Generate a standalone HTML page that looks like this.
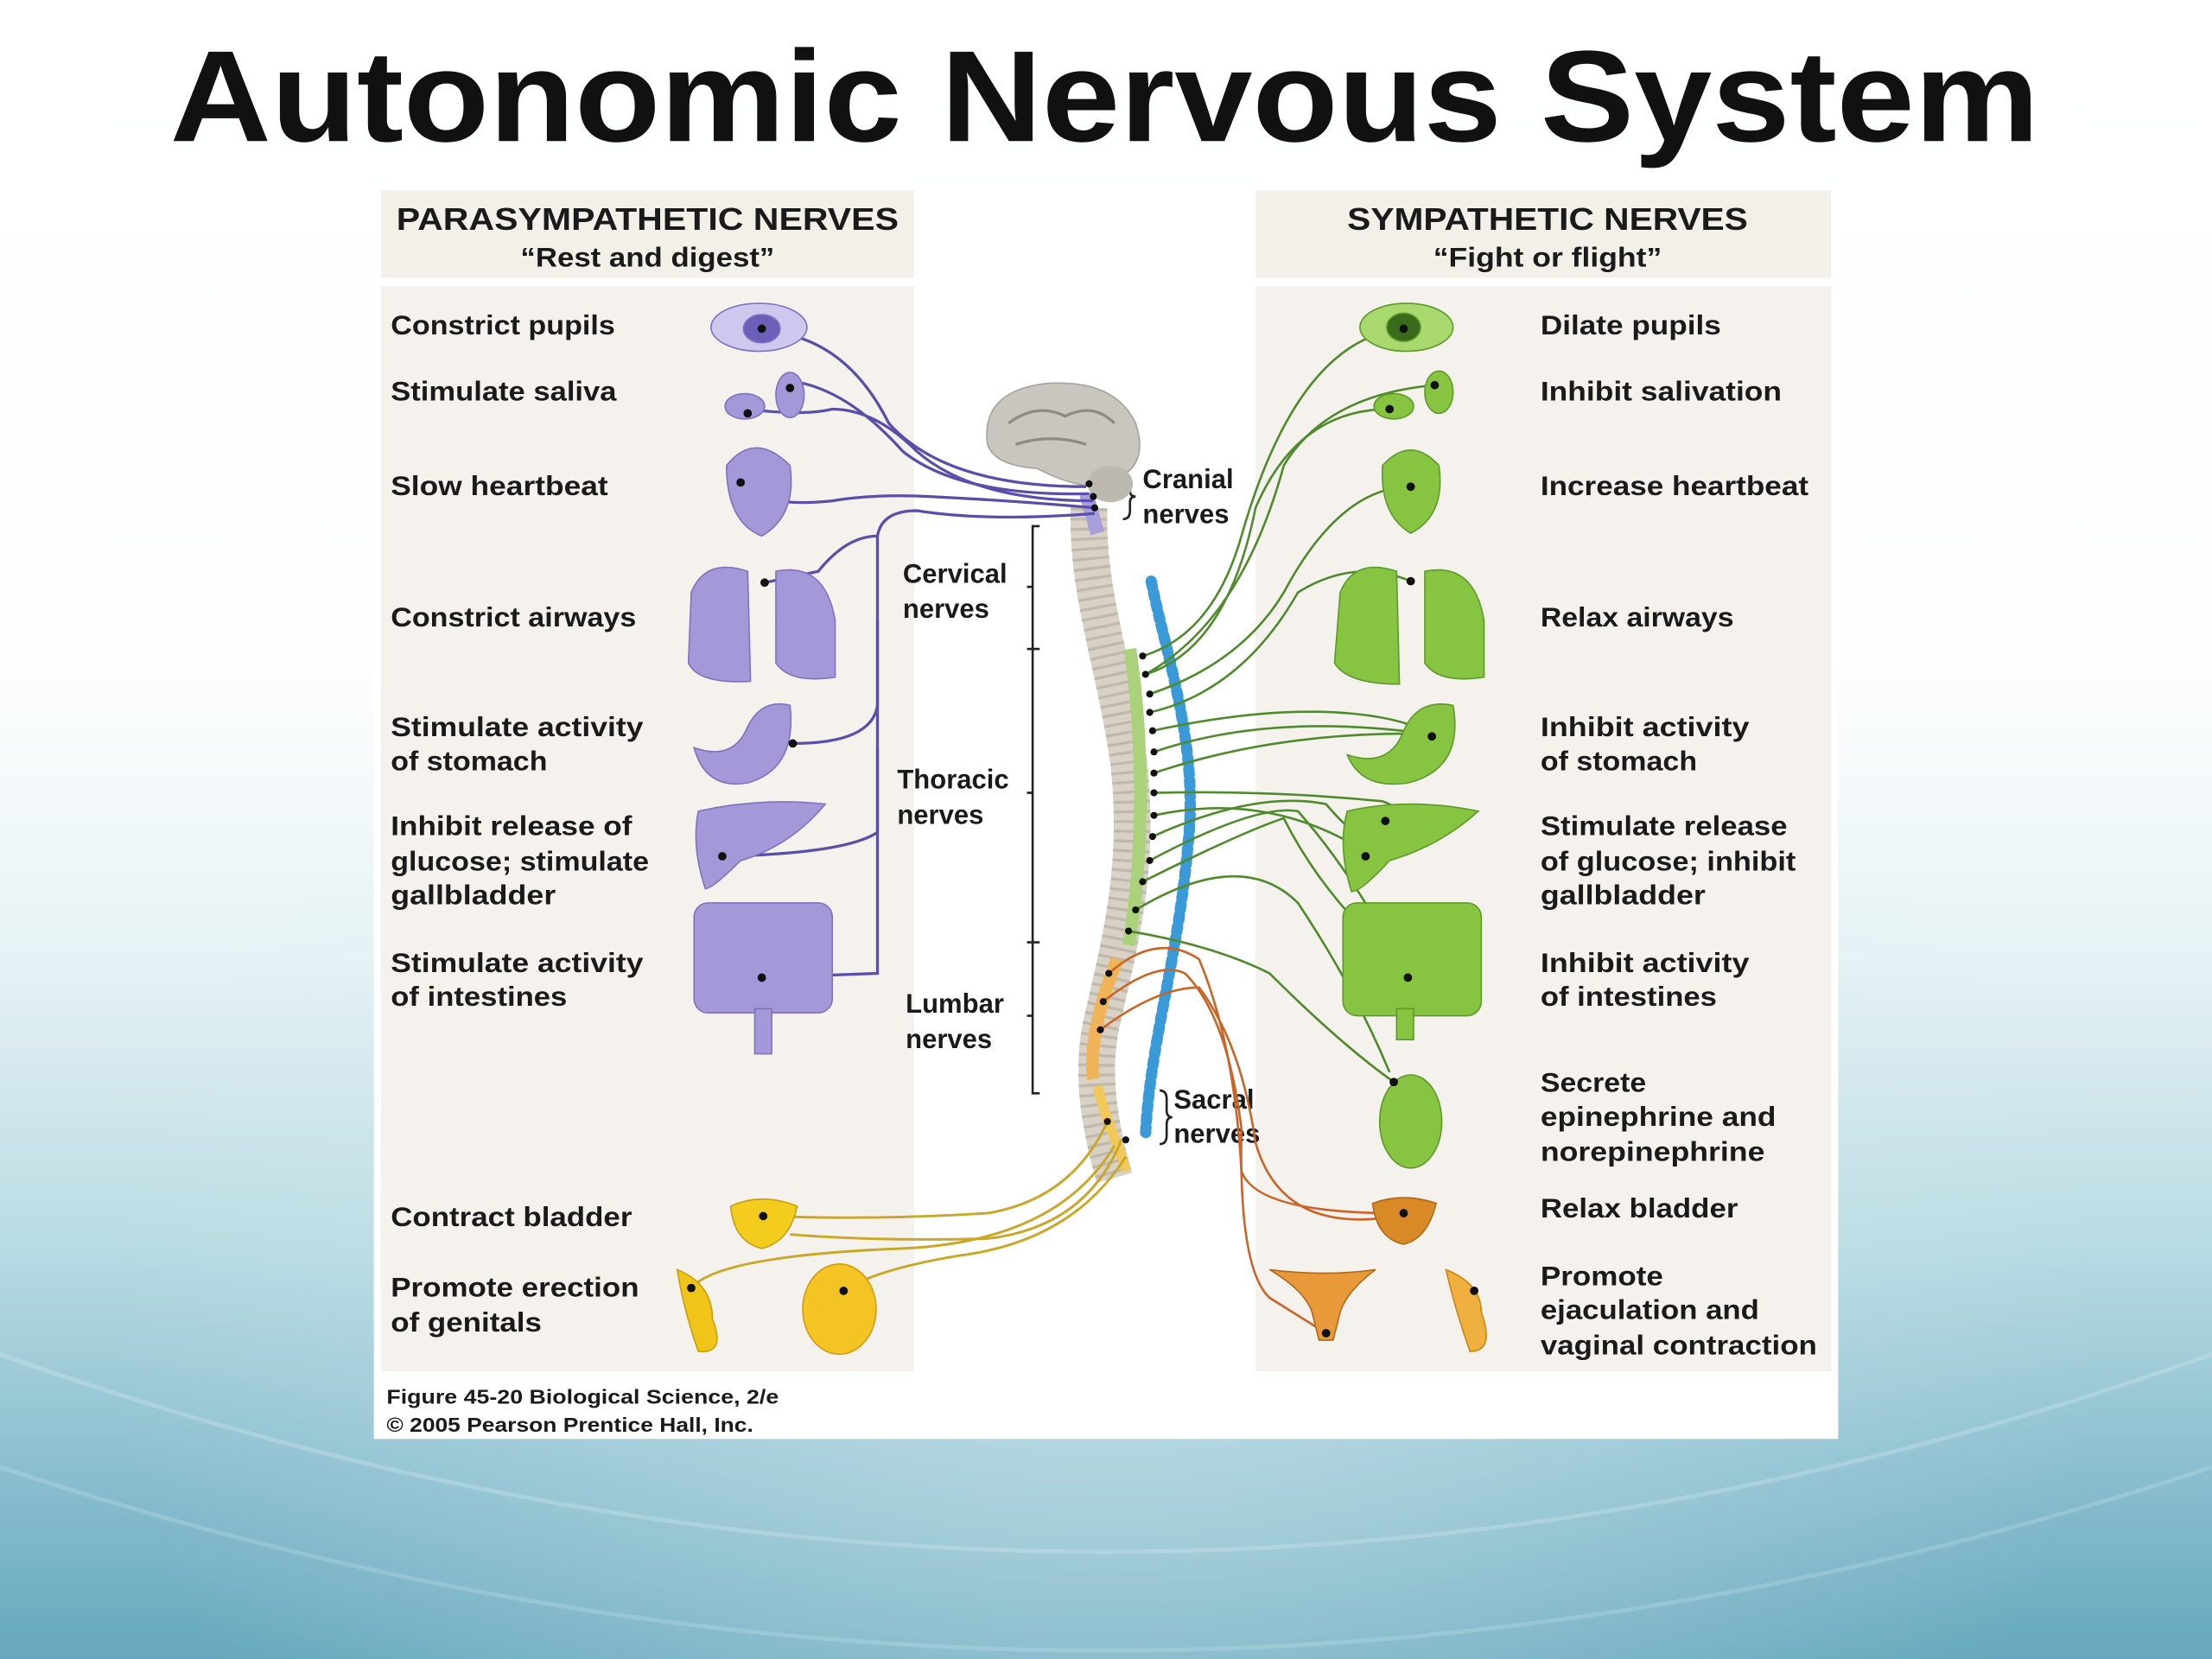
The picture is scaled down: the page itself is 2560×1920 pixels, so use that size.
<!DOCTYPE html>
<html><head><meta charset="utf-8"><style>
html,body{margin:0;padding:0;}
body{width:2560px;height:1920px;overflow:hidden;background:#fff;}
svg{display:block;}
text{font-family:"Liberation Sans",Arial,sans-serif;font-weight:bold;fill:#1a1a1a;}
</style></head><body>
<svg width="2560" height="1920" viewBox="0 0 1568 1176" preserveAspectRatio="none" xmlns="http://www.w3.org/2000/svg">
<defs>
<linearGradient id="bg" x1="0" y1="0" x2="0" y2="1">
<stop offset="0" stop-color="#ffffff"/>
<stop offset="0.4" stop-color="#fdfefe"/>
<stop offset="0.58" stop-color="#e6f2f5"/>
<stop offset="0.75" stop-color="#b9dbe3"/>
<stop offset="0.88" stop-color="#8cc0d0"/>
<stop offset="1" stop-color="#66a8bd"/>
</linearGradient>
<radialGradient id="glow" cx="0.5" cy="0.8" r="0.45">
<stop offset="0" stop-color="#d6eaef" stop-opacity="0.6"/>
<stop offset="1" stop-color="#d6eaef" stop-opacity="0"/>
</radialGradient>
</defs>
<rect width="1568" height="1176" fill="url(#bg)"/>
<rect width="1568" height="1176" fill="url(#glow)"/>
<path d="M0 960 Q784 1240 1568 960" fill="none" stroke="#e6f3f6" stroke-opacity="0.25" stroke-width="3"/>
<path d="M0 1040 Q784 1300 1568 1040" fill="none" stroke="#e6f3f6" stroke-opacity="0.2" stroke-width="3"/>

<text x="783" y="100" font-size="92" text-anchor="middle" textLength="1325" lengthAdjust="spacingAndGlyphs" style="fill:#111">Autonomic Nervous System</text>

<!-- figure box -->
<rect x="265" y="133" width="1038" height="887" fill="#fff"/>
<rect x="270" y="135" width="378" height="62" fill="#f3f0ea"/>
<rect x="270" y="203" width="378" height="769" fill="#f5f2ed"/>
<rect x="890" y="135" width="408" height="62" fill="#f3f0ea"/>
<rect x="890" y="203" width="408" height="769" fill="#f5f2ed"/>

<text x="459" y="163" font-size="22" text-anchor="middle" textLength="356" lengthAdjust="spacingAndGlyphs">PARASYMPATHETIC NERVES</text>
<text x="459" y="189" font-size="19" text-anchor="middle" textLength="180" lengthAdjust="spacingAndGlyphs">“Rest and digest”</text>
<text x="1097" y="163" font-size="22" text-anchor="middle" textLength="284" lengthAdjust="spacingAndGlyphs">SYMPATHETIC NERVES</text>
<text x="1097" y="189" font-size="19" text-anchor="middle" textLength="162" lengthAdjust="spacingAndGlyphs">“Fight or flight”</text>

<g font-size="19">
<text x="277" y="237" textLength="159" lengthAdjust="spacingAndGlyphs">Constrict pupils</text>
<text x="277" y="284" textLength="160" lengthAdjust="spacingAndGlyphs">Stimulate saliva</text>
<text x="277" y="351" textLength="154" lengthAdjust="spacingAndGlyphs">Slow heartbeat</text>
<text x="277" y="444" textLength="174" lengthAdjust="spacingAndGlyphs">Constrict airways</text>
<text x="277" y="522" textLength="179" lengthAdjust="spacingAndGlyphs">Stimulate activity</text>
<text x="277" y="546" textLength="111" lengthAdjust="spacingAndGlyphs">of stomach</text>
<text x="277" y="592" textLength="171" lengthAdjust="spacingAndGlyphs">Inhibit release of</text>
<text x="277" y="617" textLength="183" lengthAdjust="spacingAndGlyphs">glucose; stimulate</text>
<text x="277" y="641" textLength="117" lengthAdjust="spacingAndGlyphs">gallbladder</text>
<text x="277" y="689" textLength="179" lengthAdjust="spacingAndGlyphs">Stimulate activity</text>
<text x="277" y="713" textLength="125" lengthAdjust="spacingAndGlyphs">of intestines</text>
<text x="277" y="869" textLength="171" lengthAdjust="spacingAndGlyphs">Contract bladder</text>
<text x="277" y="919" textLength="176" lengthAdjust="spacingAndGlyphs">Promote erection</text>
<text x="277" y="944" textLength="107" lengthAdjust="spacingAndGlyphs">of genitals</text>

<text x="1092" y="237" textLength="128" lengthAdjust="spacingAndGlyphs">Dilate pupils</text>
<text x="1092" y="284" textLength="171" lengthAdjust="spacingAndGlyphs">Inhibit salivation</text>
<text x="1092" y="351" textLength="190" lengthAdjust="spacingAndGlyphs">Increase heartbeat</text>
<text x="1092" y="444" textLength="137" lengthAdjust="spacingAndGlyphs">Relax airways</text>
<text x="1092" y="522" textLength="148" lengthAdjust="spacingAndGlyphs">Inhibit activity</text>
<text x="1092" y="546" textLength="111" lengthAdjust="spacingAndGlyphs">of stomach</text>
<text x="1092" y="592" textLength="175" lengthAdjust="spacingAndGlyphs">Stimulate release</text>
<text x="1092" y="617" textLength="181" lengthAdjust="spacingAndGlyphs">of glucose; inhibit</text>
<text x="1092" y="641" textLength="117" lengthAdjust="spacingAndGlyphs">gallbladder</text>
<text x="1092" y="689" textLength="148" lengthAdjust="spacingAndGlyphs">Inhibit activity</text>
<text x="1092" y="713" textLength="125" lengthAdjust="spacingAndGlyphs">of intestines</text>
<text x="1092" y="774" textLength="75" lengthAdjust="spacingAndGlyphs">Secrete</text>
<text x="1092" y="798" textLength="167" lengthAdjust="spacingAndGlyphs">epinephrine and</text>
<text x="1092" y="823" textLength="159" lengthAdjust="spacingAndGlyphs">norepinephrine</text>
<text x="1092" y="863" textLength="140" lengthAdjust="spacingAndGlyphs">Relax bladder</text>
<text x="1092" y="911" textLength="87" lengthAdjust="spacingAndGlyphs">Promote</text>
<text x="1092" y="935" textLength="155" lengthAdjust="spacingAndGlyphs">ejaculation and</text>
<text x="1092" y="960" textLength="196" lengthAdjust="spacingAndGlyphs">vaginal contraction</text>

<text x="810" y="346">Cranial</text>
<text x="810" y="371">nerves</text>
<text x="640" y="413">Cervical</text>
<text x="640" y="438">nerves</text>
<text x="636" y="559">Thoracic</text>
<text x="636" y="584">nerves</text>
<text x="642" y="718">Lumbar</text>
<text x="642" y="743">nerves</text>
<text x="832" y="786">Sacral</text>
<text x="832" y="810">nerves</text>
</g>
<text x="274" y="995" font-size="14" textLength="278" lengthAdjust="spacingAndGlyphs">Figure 45-20  Biological Science, 2/e</text>
<text x="274" y="1015" font-size="14" textLength="260" lengthAdjust="spacingAndGlyphs">© 2005 Pearson Prentice Hall, Inc.</text>

<!-- brackets -->
<g stroke="#222" stroke-width="1.6" fill="none">
<path d="M737 373 H732 V775 H737 M728 416 H732 M728 460 H737 M728 562 H732 M728 668 H737 M728 720 H732"/>
<path d="M796 337 q5 0 5 6 v5 q0 4 4 4 q-4 0 -4 4 v6 q0 6 -5 6"/>
<path d="M822 773 q5 0 5 6 v8 q0 5 4 5 q-4 0 -4 5 v8 q0 6 -5 6"/>
</g>

<!-- brain -->
<path d="M700 315 Q695 278 740 272 Q790 268 805 300 Q815 330 790 340 L780 345 Q760 345 735 332 Q705 330 700 315Z" fill="#c9c5bf" stroke="#a7a39c"/>
<path d="M715 300 q20 -15 40 -5 q20 -10 35 5 M720 315 q25 -8 50 0" stroke="#8f8a83" fill="none" stroke-width="2"/>
<ellipse cx="787" cy="343" rx="16" ry="13" fill="#bdb8b0"/>
<!-- spine -->
<path d="M772 360 C770 420 790 470 800 540 C808 610 796 660 782 720 C772 760 780 800 790 835" stroke="#d8d2c6" stroke-width="26" fill="none"/>
<path d="M772 360 C770 420 790 470 800 540 C808 610 796 660 782 720 C772 760 780 800 790 835" stroke="#bfb8ab" stroke-width="26" stroke-dasharray="2 5" fill="none"/>
<path d="M801 460 C810 520 812 600 800 670" stroke="#a9d27a" stroke-width="9" fill="none"/>
<path d="M792 680 C780 710 772 740 775 765" stroke="#f0b458" stroke-width="9" fill="none"/>
<path d="M778 770 C785 800 795 815 798 830" stroke="#f3c85a" stroke-width="7" fill="none"/>
<path d="M770 350 L778 378" stroke="#a79fd9" stroke-width="10"/>
<!-- blue chain -->
<path d="M816 412 C828 470 850 530 842 600 C835 680 815 740 812 805" stroke="#3a9ad8" stroke-width="8" stroke-dasharray="4 4" stroke-linecap="round" fill="none"/>

<!-- purple nerves -->
<g stroke="#5a4ea8" stroke-width="2" fill="none">
<path d="M545 235 Q600 240 630 300 Q670 345 770 345"/>
<path d="M560 270 Q600 275 640 320 Q680 352 772 350"/>
<path d="M530 290 Q570 295 590 290 Q620 290 650 320 Q690 355 775 355"/>
<path d="M525 345 Q545 360 590 355 Q620 350 660 352 Q720 355 776 360"/>
<path d="M776 364 Q700 370 650 362 Q625 362 622 380 V690 Q620 690 540 693"/>
<path d="M622 380 Q600 380 580 405 L542 413"/>
<path d="M622 440 V500 Q618 527 562 527"/>
<path d="M622 530 V590 Q600 605 512 607"/>
</g>
<!-- green nerves -->
<g stroke="#4f8a2c" stroke-width="1.6" fill="none">
<path d="M810 465 Q860 450 880 380 Q920 240 995 233"/>
<path d="M812 478 Q870 460 890 360 Q920 290 985 290"/>
<path d="M812 478 Q880 440 910 330 Q940 280 1017 273"/>
<path d="M815 492 Q880 470 910 420 Q950 345 1000 345"/>
<path d="M815 505 Q880 490 920 420 Q960 395 1000 412"/>
<path d="M817 518 Q900 500 960 506 Q1000 510 1015 522"/>
<path d="M818 533 Q900 505 1010 520"/>
<path d="M818 548 Q900 520 1000 520"/>
<path d="M818 562 Q900 560 980 568 Q1000 575 982 582"/>
<path d="M818 578 Q900 560 970 605"/>
<path d="M817 593 Q890 560 940 570 Q965 600 990 605"/>
<path d="M815 610 Q890 570 920 575 Q960 620 998 693"/>
<path d="M810 625 Q880 590 910 580 Q940 640 1000 690"/>
<path d="M805 645 Q880 600 920 640 Q960 700 985 760"/>
<path d="M800 660 Q860 670 900 690 Q950 740 988 767"/>
</g>
<!-- orange nerves -->
<g stroke="#c8662a" stroke-width="1.6" fill="none">
<path d="M786 690 Q820 660 850 680 Q875 740 880 830 Q890 860 990 860"/>
<path d="M782 710 Q820 680 840 690 Q870 720 880 800 Q878 900 900 920 L940 945"/>
<path d="M780 730 Q820 700 850 700 Q880 740 890 810 Q910 880 1000 860"/>
</g>
<!-- yellow nerves -->
<g stroke="#c9a72a" stroke-width="1.8" fill="none">
<path d="M785 795 Q760 850 700 860 Q620 865 545 862"/>
<path d="M795 808 Q770 870 700 878 Q620 880 560 875"/>
<path d="M790 812 Q750 880 640 885 Q510 890 490 913"/>
<path d="M798 820 Q760 880 680 890 Q620 900 598 915"/>
</g>

<!-- left purple organs -->
<g fill="#a498d8" stroke="#7f72c0" stroke-width="1">
<ellipse cx="538" cy="232" rx="34" ry="17" fill="#cfc8ee"/>
<ellipse cx="540" cy="233" rx="13" ry="10" fill="#6c5fb8"/>
<ellipse cx="560" cy="280" rx="10" ry="16"/>
<ellipse cx="528" cy="288" rx="14" ry="9"/>
<path d="M515 330 Q535 305 560 330 Q565 365 540 380 Q515 370 515 330Z"/>
<path d="M490 420 Q500 395 530 405 L532 483 Q495 485 488 470Z"/>
<path d="M550 405 Q585 398 592 440 L592 480 Q560 485 550 470Z"/>
<path d="M492 530 Q520 540 530 515 Q540 495 560 500 Q565 545 530 555 Q500 560 492 530Z"/>
<path d="M495 575 Q540 565 585 570 Q560 600 525 610 Q505 630 500 630 Q490 600 495 575Z"/>
<rect x="492" y="640" width="98" height="78" rx="10"/>
<rect x="535" y="715" width="12" height="32"/>
</g>
<!-- right green organs -->
<g fill="#86c441" stroke="#5f9a2c" stroke-width="1">
<ellipse cx="997" cy="232" rx="33" ry="17" fill="#a8d86e"/>
<ellipse cx="995" cy="232" rx="12" ry="10" fill="#3a6b1a"/>
<ellipse cx="1020" cy="278" rx="10" ry="15"/>
<ellipse cx="988" cy="288" rx="14" ry="9"/>
<path d="M980 330 Q1000 308 1020 330 Q1025 365 1000 378 Q978 365 980 330Z"/>
<path d="M950 420 Q960 395 990 405 L992 485 Q955 485 946 470Z"/>
<path d="M1010 405 Q1045 398 1052 440 L1052 480 Q1020 485 1010 470Z"/>
<path d="M955 535 Q985 545 995 518 Q1005 495 1030 500 Q1038 545 998 555 Q965 560 955 535Z"/>
<path d="M955 575 Q1000 565 1048 575 Q1020 600 985 610 Q965 632 958 632 Q948 600 955 575Z"/>
<rect x="952" y="640" width="98" height="80" rx="10"/>
<rect x="990" y="715" width="12" height="22"/>
<ellipse cx="1000" cy="795" rx="22" ry="33"/>
</g>
<!-- yellow / orange organs -->
<path d="M518 855 Q540 845 565 855 Q560 880 540 885 Q520 880 518 855Z" fill="#f3cc1e" stroke="#c8a010"/>
<path d="M480 900 Q505 910 505 935 Q515 960 495 958 Q485 930 480 900Z" fill="#f0c419" stroke="#c8a010"/>
<ellipse cx="595" cy="928" rx="26" ry="32" fill="#f3c424" stroke="#d49a10"/>
<path d="M973 853 Q995 845 1018 853 Q1012 878 995 882 Q976 878 973 853Z" fill="#d98a26" stroke="#b06a18"/>
<path d="M900 900 Q940 905 975 900 Q955 915 950 930 L945 950 L935 950 L930 930 Q925 915 900 900Z" fill="#e89a3a" stroke="#b06a18"/>
<path d="M1025 900 Q1050 910 1050 930 Q1060 958 1042 958 Q1032 930 1025 900Z" fill="#f0b040" stroke="#c8881a"/>

<!-- ganglion dots -->
<g fill="#111">
<circle cx="540" cy="233" r="3"/><circle cx="560" cy="275" r="3"/><circle cx="530" cy="293" r="3"/>
<circle cx="525" cy="342" r="3"/><circle cx="542" cy="413" r="3"/><circle cx="562" cy="527" r="3"/>
<circle cx="512" cy="607" r="3"/><circle cx="540" cy="693" r="3"/><circle cx="541" cy="862" r="3"/>
<circle cx="490" cy="913" r="3"/><circle cx="598" cy="915" r="3"/>
<circle cx="995" cy="233" r="3"/><circle cx="985" cy="290" r="3"/><circle cx="1017" cy="273" r="3"/>
<circle cx="1000" cy="345" r="3"/><circle cx="1000" cy="412" r="3"/><circle cx="1015" cy="522" r="3"/>
<circle cx="982" cy="582" r="3"/><circle cx="968" cy="607" r="3"/><circle cx="998" cy="693" r="3"/>
<circle cx="988" cy="767" r="3"/><circle cx="995" cy="860" r="3"/><circle cx="940" cy="945" r="3"/>
<circle cx="1045" cy="915" r="3"/>
<circle cx="810" cy="465" r="2.5"/><circle cx="812" cy="478" r="2.5"/><circle cx="815" cy="492" r="2.5"/>
<circle cx="815" cy="505" r="2.5"/><circle cx="817" cy="518" r="2.5"/><circle cx="818" cy="533" r="2.5"/>
<circle cx="818" cy="548" r="2.5"/><circle cx="818" cy="562" r="2.5"/><circle cx="818" cy="578" r="2.5"/>
<circle cx="817" cy="593" r="2.5"/><circle cx="815" cy="610" r="2.5"/><circle cx="810" cy="625" r="2.5"/>
<circle cx="805" cy="645" r="2.5"/><circle cx="800" cy="660" r="2.5"/>
<circle cx="786" cy="690" r="2.5"/><circle cx="782" cy="710" r="2.5"/><circle cx="780" cy="730" r="2.5"/>
<circle cx="785" cy="795" r="2.5"/><circle cx="798" cy="808" r="2.5"/>
<circle cx="772" cy="343" r="2.5"/><circle cx="775" cy="352" r="2.5"/><circle cx="776" cy="360" r="2.5"/>
</g>
</svg>
</body></html>
